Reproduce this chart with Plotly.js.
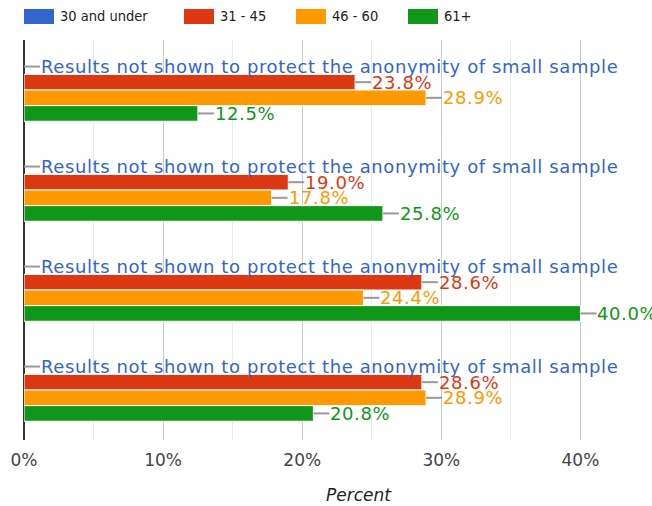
<!DOCTYPE html>
<html>
<head>
<meta charset="utf-8">
<script src="https://cdn.plot.ly/plotly-3.0.1.min.js"></script>
<style>
  html, body { margin: 0; padding: 0; background: #fff; }
  #chart { width: 652px; height: 506px; }
</style>
</head>
<body>
<div id="chart"></div>
<script>
// ---- data ----
const categories = ['Group 1', 'Group 2', 'Group 3', 'Group 4'];
const seriesNames = ['30 and under', '31 - 45', '46 - 60', '61+'];
const values30AndUnder = [null, null, null, null];
const values31to45 = [23.8, 19.0, 28.6, 28.6];
const values46to60 = [28.9, 17.8, 24.4, 28.9];
const values61plus = [12.5, 25.8, 40.0, 20.8];
const hiddenNote = 'Results not shown to protect the anonymity of small sample';
const tickValues = [0, 10, 20, 30, 40];
const tickLabels = ['0%', '10%', '20%', '30%', '40%'];
const axisTitle = 'Percent';

// ---- styles ----
const colors = ['#3366cc', '#dc3912', '#ff9900', '#109618'];
const seriesValues = [values30AndUnder, values31to45, values46to60, values61plus];
const labelFont = 'DejaVu Sans, sans-serif';
const bargap = 0.375;
const leader = 1.15;
const legendX = [24, 184, 296, 408]; // pixel positions of legend swatches

const plotL = 24, plotR = 2, plotT = 40, plotB = 66;
const W = 652, H = 506;
const plotW = W - plotL - plotR, plotH = H - plotT - plotB;
const px2paperX = px => (px - plotL) / plotW;
const py2paperY = py => (H - plotB - py) / plotH;
const spaced = s => '<span style="letter-spacing:0.6px">' + s + '</span>';

const traces = seriesNames.map((name, k) => ({
  type: 'bar',
  orientation: 'h',
  name: name,
  y: categories,
  x: seriesValues[k],
  marker: { color: colors[k], line: { color: '#ffffff', width: 1 } },
  hoverinfo: 'skip'
}));

const shapes = [];
const annotations = [];
const slot = (1 - bargap) / seriesNames.length;

categories.forEach((cat, i) => {
  seriesNames.forEach((name, k) => {
    const yPos = i - (1 - bargap) / 2 + slot * (k + 0.5);
    const v = seriesValues[k][i];
    const start = (v === null) ? 0 : v;
    shapes.push({
      type: 'line', xref: 'x', yref: 'y',
      x0: start, x1: start + leader, y0: yPos, y1: yPos,
      line: { color: '#999999', width: 2 }
    });
    annotations.push({
      xref: 'x', yref: 'y',
      x: start + leader, y: yPos,
      xanchor: 'left', yanchor: 'middle',
      showarrow: false,
      borderpad: 0,
      text: spaced((v === null) ? hiddenNote : v.toFixed(1) + '%'),
      font: { family: labelFont, size: 18, color: colors[k] }
    });
  });
});

// legend (custom to match swatch size)
seriesNames.forEach((name, k) => {
  shapes.push({
    type: 'rect', xref: 'paper', yref: 'paper',
    x0: px2paperX(legendX[k]), x1: px2paperX(legendX[k] + 30),
    y0: py2paperY(24), y1: py2paperY(9),
    fillcolor: colors[k], line: { width: 0 }
  });
  annotations.push({
    xref: 'paper', yref: 'paper',
    x: px2paperX(legendX[k] + 35), y: py2paperY(16.5),
    xanchor: 'left', yanchor: 'middle', showarrow: false, borderpad: 0,
    text: name,
    font: { family: 'DejaVu Sans Condensed, Roboto, sans-serif', size: 14.5, color: '#222222' }
  });
});

annotations.push({
  xref: 'paper', yref: 'paper',
  x: px2paperX(359), y: py2paperY(495),
  xanchor: 'center', yanchor: 'middle', showarrow: false,
  text: axisTitle,
  font: { family: labelFont, size: 17, color: '#222222', style: 'italic' }
});

const layout = {
  width: W, height: H,
  margin: { l: plotL, r: plotR, t: plotT, b: plotB, pad: 0 },
  paper_bgcolor: '#ffffff',
  plot_bgcolor: '#ffffff',
  showlegend: false,
  barmode: 'group',
  bargap: bargap,
  bargroupgap: 0,
  xaxis: {
    range: [0, 45],
    tickvals: tickValues,
    ticktext: tickLabels,
    showgrid: true,
    gridcolor: '#cccccc',
    gridwidth: 1,
    minor: { dtick: 5, tick0: 0, showgrid: true, gridcolor: '#ebebeb', gridwidth: 1 },
    zeroline: true,
    zerolinecolor: '#333333',
    zerolinewidth: 2,
    showline: false,
    ticks: '',
    tickfont: { family: labelFont, size: 17, color: '#444444' },
    ticklabelstandoff: 8,
    fixedrange: true
  },
  yaxis: {
    type: 'category',
    categoryorder: 'array',
    categoryarray: categories,
    autorange: 'reversed',
    showticklabels: false,
    showgrid: false,
    zeroline: false,
    showline: false,
    ticks: '',
    fixedrange: true
  },
  shapes: shapes,
  annotations: annotations
};

Plotly.newPlot('chart', traces, layout, { displayModeBar: false, staticPlot: true });
</script>
</body>
</html>
